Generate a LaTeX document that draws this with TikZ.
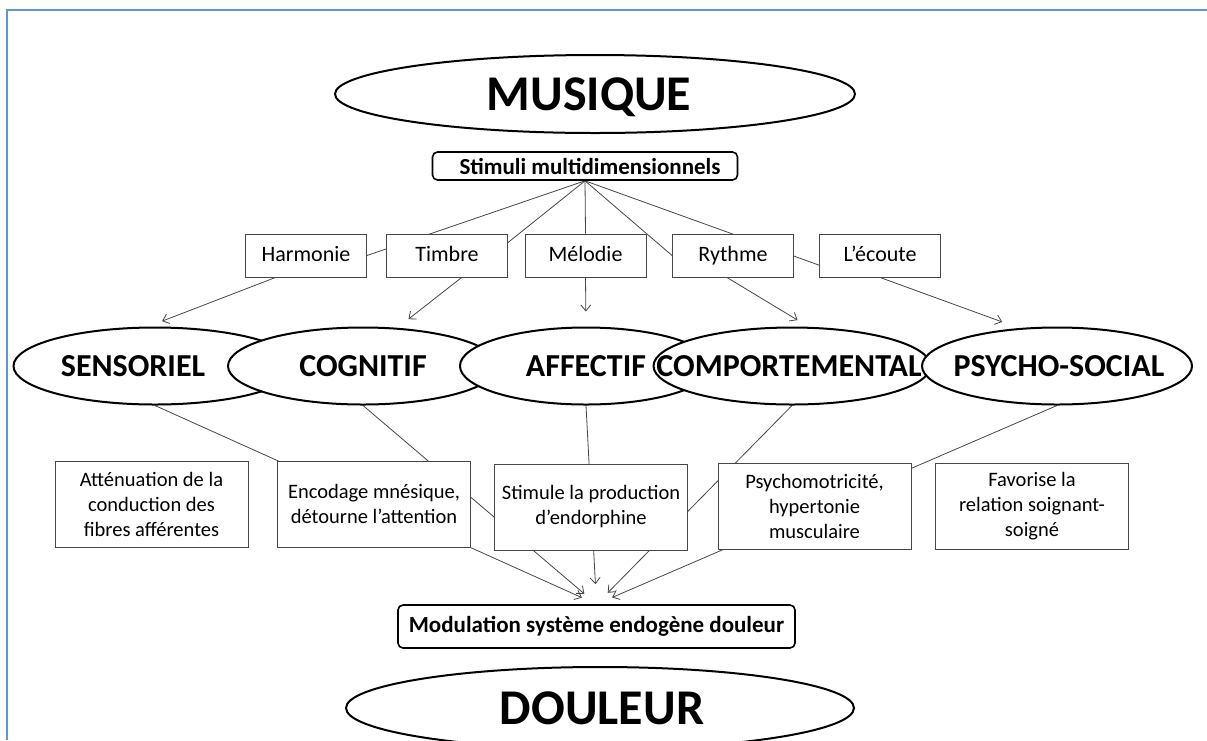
\documentclass[tikz,border=0pt]{standalone}
\usepackage{fontspec}
\setmainfont{Carlito}
\usepackage{tikz}
\usetikzlibrary{shapes.geometric,arrows.meta,calc,backgrounds}
\definecolor{frameblue}{RGB}{95,150,215}
\definecolor{linegray}{RGB}{70,70,70}
\newcommand{\inoval}[2][0pt]{\makebox[0pt]{\hspace*{#1}#2\hspace*{-#1}}}
\tikzstyle{bigoval} = [ellipse, draw=black, line width=2pt, fill=white, inner sep=0pt, text depth=0pt, font=\fontsize{50}{52}\selectfont\bfseries]
\tikzstyle{field} = [ellipse, draw=black, line width=2pt, fill=white, inner sep=0pt, text depth=0pt, minimum height=77pt, font=\fontsize{32}{34}\selectfont\bfseries]
\tikzstyle{headbox} = [rectangle, rounded corners=5pt, draw=black, line width=1.6pt, fill=white, inner sep=1pt, font=\fontsize{23}{26}\selectfont\bfseries]
\tikzstyle{factor} = [rectangle, draw=linegray, line width=0.9pt, fill=white, minimum width=121pt, minimum height=43pt, text height=16pt, text depth=5pt, font=\fontsize{22}{26}\selectfont]
\tikzstyle{outcome} = [rectangle, draw=linegray, line width=0.9pt, fill=white, minimum width=193pt, minimum height=86pt, inner sep=2pt, align=center, font=\fontsize{20.5}{25}\selectfont]
\tikzstyle{link} = [draw=linegray, line width=0.8pt]
\tikzstyle{arrow} = [link, -{Straight Barb[length=6pt,width=10pt]}]

\begin{document}
\begin{tikzpicture}[x=1pt,y=-1pt]
\useasboundingbox (0,0) rectangle (1207,740);
\draw [frameblue, line width=1.5pt] (7,740) -- (7,10) -- (1207,10);

	\node (musique) [bigoval, minimum width=520pt, minimum height=78pt] at (595,94) {\inoval[-6pt]{MUSIQUE}};
	\node (stimuli) [headbox, minimum width=305pt, minimum height=28pt] at (585,166) {\hspace*{10pt}Stimuli multidimensionnels};

	\node (harmonie) [factor] at (306,255.5) {Harmonie};
	\node (timbre) [factor] at (447,255.5) {Timbre};
	\node (melodie) [factor] at (585.5,255.5) {Mélodie};
	\node (rythme) [factor] at (733,255.5) {Rythme};
	\node (ecoute) [factor] at (880,255.5) {L’écoute};

	\node (sensoriel) [field, minimum width=283pt] at (155,366) {\inoval[-22pt]{SENSORIEL}};
	\node (cognitif) [field, minimum width=270pt] at (363,366) {\inoval{COGNITIF}};
	\node (affectif) [field, minimum width=252pt] at (586,366) {\inoval{AFFECTIF}};
	\node (comport) [field, minimum width=277pt] at (792,366) {\inoval[-3pt]{COMPORTEMENTAL}};
	\node (psycho) [field, minimum width=270pt] at (1057,366) {\inoval[2pt]{PSYCHO-SOCIAL}};

	\node (attenuation) [outcome] at (151.5,504) {Atténuation de la\\conduction des\\fibres afférentes};
	\node (encodage) [outcome] at (374,504) {Encodage mnésique,\\détourne l’attention};
	\node (stimule) [outcome] at (591,507) {Stimule la production\\d’endorphine};
	\node (psychomot) [outcome] at (814.5,506.5) {Psychomotricité,\\hypertonie\\musculaire};
	\node (favorise) [outcome] at (1032,506.5) {Favorise la\\relation soignant-\\soigné};

	\node (modulation) [headbox, minimum width=397pt, minimum height=43pt] at (596.5,626.5) {Modulation système endogène douleur};
	\node (douleur) [bigoval, minimum width=508pt, minimum height=82pt] at (600,708) {\inoval[2pt]{DOULEUR}};

\begin{pgfonlayer}{background}
	\draw [link] (stimuli.south) -- (harmonie.east);
	\draw [link] (stimuli.south) -- (timbre.12);
	\draw [link] (stimuli.south) -- (melodie.north);
	\draw [link] (stimuli.south) -- (rythme.west);
	\draw [link] (stimuli.south) -- (ecoute.189);

	\draw [arrow, shorten >=15pt] ($(harmonie.south west)!0.25!(harmonie.south east)$) -- (sensoriel.100);
	\draw [arrow, shorten >=14pt] ($(timbre.south west)!0.62!(timbre.south east)$) -- (cognitif.48);
	\draw [arrow, shorten >=15pt] (melodie.south) -- (affectif.north);
	\draw [arrow, shorten >=13pt] ($(rythme.south west)!0.45!(rythme.south east)$) -- (comport.67);
	\draw [arrow, shorten >=18pt] (ecoute.south) -- (psycho.135);

	\draw [arrow, shorten >=16pt] (sensoriel.south) -- (modulation.north);
	\draw [arrow, shorten >=16pt] (cognitif.south) -- (modulation.north);
	\draw [arrow, shorten >=20pt] (affectif.south) -- (modulation.north);
	\draw [arrow, shorten >=16pt] (comport.south) -- (modulation.north);
	\draw [arrow, shorten >=17pt] (psycho.south) -- (modulation.north);
\end{pgfonlayer}

\end{tikzpicture}
\end{document}
